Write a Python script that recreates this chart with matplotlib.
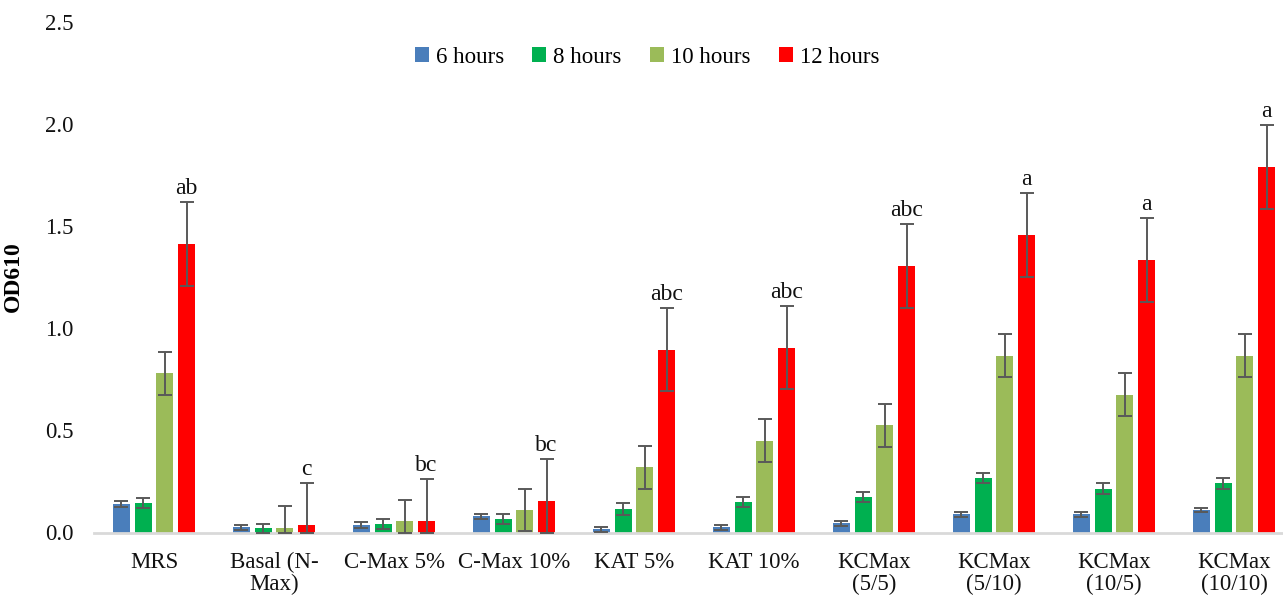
import numpy as np
import matplotlib
matplotlib.use("Agg")
import matplotlib.pyplot as plt

plt.rcParams['font.family'] = ['Liberation Serif', 'DejaVu Serif']

categories = ["MRS", "Basal (N-\nMax)", "C-Max 5%", "C-Max 10%", "KAT 5%", "KAT 10%",
              "KCMax\n(5/5)", "KCMax\n(5/10)", "KCMax\n(10/5)", "KCMax\n(10/10)"]
series_names = ["6 hours", "8 hours", "10 hours", "12 hours"]

od_6h = [0.14, 0.025, 0.035, 0.08, 0.015, 0.025, 0.045, 0.09, 0.09, 0.11]
od_8h = [0.145, 0.02, 0.04, 0.065, 0.115, 0.15, 0.175, 0.265, 0.215, 0.24]
od_10h = [0.78, 0.02, 0.055, 0.11, 0.32, 0.45, 0.525, 0.865, 0.675, 0.865]
od_12h = [1.413, 0.035, 0.055, 0.155, 0.895, 0.905, 1.305, 1.455, 1.335, 1.79]

err_6h = [0.015, 0.012, 0.015, 0.012, 0.012, 0.012, 0.012, 0.012, 0.012, 0.012]
err_8h = [0.025, 0.02, 0.025, 0.025, 0.03, 0.025, 0.025, 0.025, 0.025, 0.025]
err_10h = [0.105, 0.11, 0.105, 0.105, 0.105, 0.105, 0.105, 0.105, 0.105, 0.105]
err_12h = [0.205, 0.205, 0.205, 0.205, 0.205, 0.205, 0.205, 0.205, 0.205, 0.205]

letters = ["ab", "c", "bc", "bc", "abc", "abc", "abc", "a", "a", "a"]

colors = ["#4A7EBB", "#00B050", "#9BBB59", "#FF0000"]

values = [od_6h, od_8h, od_10h, od_12h]
errors = [err_6h, err_8h, err_10h, err_12h]

W, H = 1283, 598
fig = plt.figure(figsize=(W / 100, H / 100), dpi=100)
ax_left, ax_bottom, ax_top = 94, 532.5, 21.5
ax = fig.add_axes([ax_left / W, 1 - ax_bottom / H, (W - ax_left) / W, (ax_bottom - ax_top) / H])

x = np.arange(len(categories))
step = 0.181
width = 0.142
ymin = 0.0
for i, (vals, errs, col, name) in enumerate(zip(values, errors, colors, series_names)):
    pos = x + (i - 1.5) * step
    ax.bar(pos, vals, width=width, color=col, label=name, zorder=2)
    vals = np.array(vals)
    errs = np.array(errs)
    lower = np.minimum(errs, vals - ymin)
    ax.errorbar(pos, vals, yerr=[lower, errs], fmt="none", ecolor="#595959",
                elinewidth=1.4, capsize=5, capthick=1.4, zorder=3)
    if i == 3:
        for p, v, e, t in zip(pos, vals, errs, letters):
            ax.text(p, v + e + 0.015, t, ha="center", va="bottom", fontsize=17, color="#111111")

ax.set_xlim(-0.5, (W - ax_left) / 120 - 0.5)
ax.set_ylim(0, 2.5)
ax.set_yticks([0.0, 0.5, 1.0, 1.5, 2.0, 2.5])
ax.set_yticklabels(["0.0", "0.5", "1.0", "1.5", "2.0", "2.5"])
ax.set_xticks(x)
ax.set_xticklabels(categories, linespacing=1.05)
ax.tick_params(axis="both", length=0, labelsize=16.5, colors="#111111")
ax.tick_params(axis="y", pad=15)
ax.tick_params(axis="x", pad=14)
for s in ["top", "right", "left"]:
    ax.spines[s].set_visible(False)
ax.spines["bottom"].set_color("#D9D9D9")
ax.spines["bottom"].set_linewidth(2)

ax.set_ylabel("OD610", fontsize=17, fontweight="bold")
ax.yaxis.set_label_coords((24 - ax_left) / (W - ax_left), 0.5)

legend_center_px = 647
ax.legend(loc="upper center",
          bbox_to_anchor=((legend_center_px - ax_left) / (W - ax_left), 1.0),
          ncol=4, frameon=False, fontsize=16.5, handlelength=0.6, handleheight=0.6,
          handletextpad=0.3, columnspacing=1.25, borderaxespad=0.7)

fig.savefig("out.png", dpi=100)
